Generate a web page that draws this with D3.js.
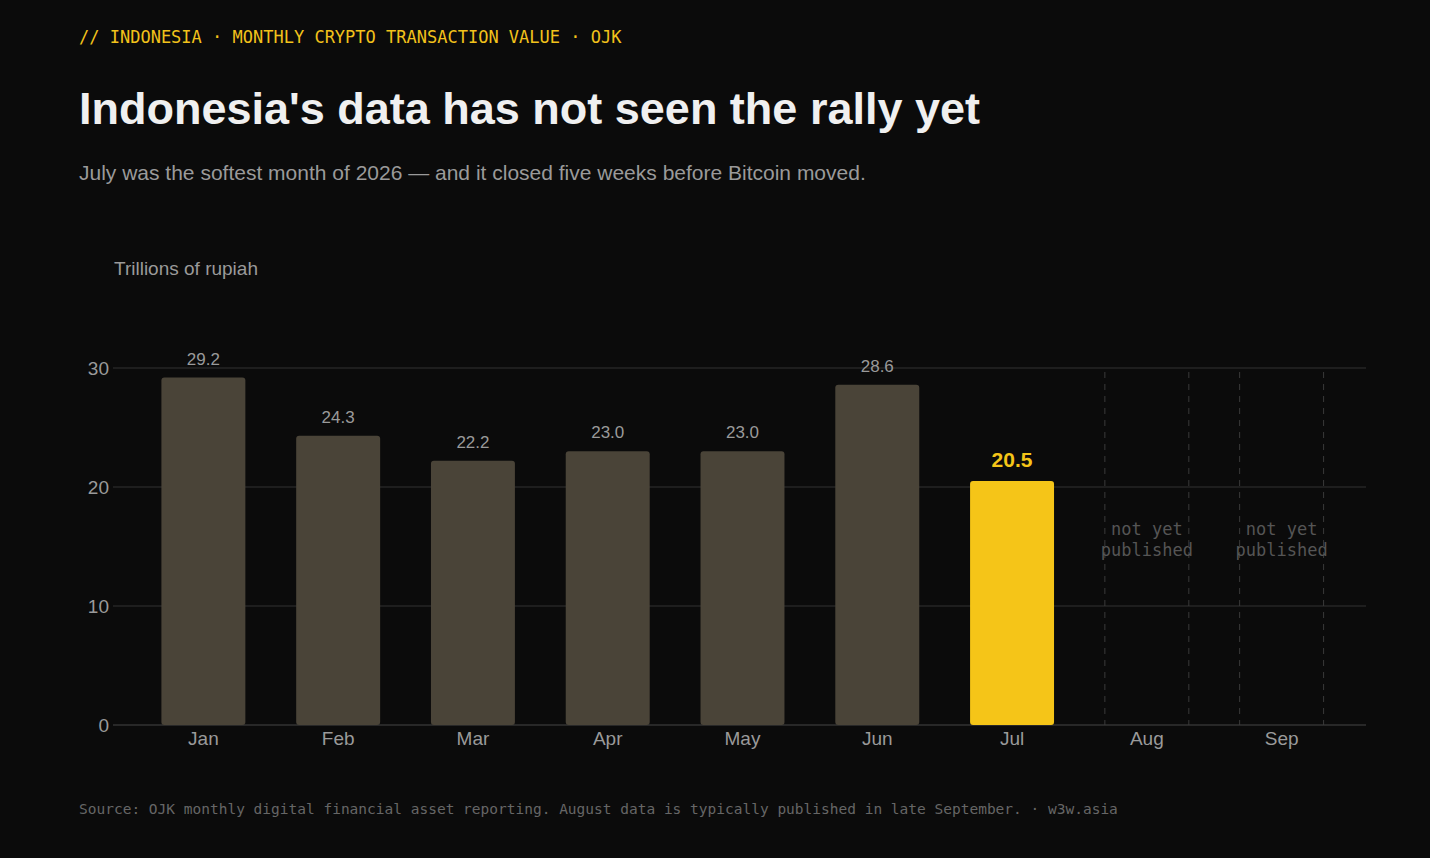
<!DOCTYPE html>
<html><head><meta charset="utf-8">
<script src="https://cdn.jsdelivr.net/npm/d3@7"></script>
<style>
body{margin:0;background:#0b0b0b;}
text{font-family:"Liberation Sans",Arial,sans-serif;}
.mono{font-family:"DejaVu Sans Mono","Liberation Mono",monospace;}
</style></head><body>
<svg id="chart" width="1430" height="858"></svg>
<script>
// data
var months = ['Jan','Feb','Mar','Apr','May','Jun','Jul','Aug','Sep'];
var values = [29.2, 24.3, 22.2, 23.0, 23.0, 28.6, 20.5, null, null];
var yTicks = [0, 10, 20, 30];

var svg = d3.select('#chart');
var plot = {left:113, right:1366, top:368, bottom:725};

var x = d3.scaleBand().domain(months).range([136, 1349]).padding(0);
var barW = x.bandwidth() * 0.623;
var cx = m => x(m) + x.bandwidth() / 2;
var y = d3.scaleLinear().domain([0, 30]).range([plot.bottom, plot.top]);

svg.append('text').attr('class','mono').attr('x',79).attr('y',43)
    .attr('fill','#f2c21b').style('font-size','17px')
    .text('// INDONESIA · MONTHLY CRYPTO TRANSACTION VALUE · OJK');
svg.append('text').attr('x',79).attr('y',124).attr('fill','#f0f0f0')
    .style('font-size','45px').style('font-weight','bold')
    .text("Indonesia's data has not seen the rally yet");
svg.append('text').attr('x',79).attr('y',180).attr('fill','#9a9a9a')
    .style('font-size','21px')
    .text('July was the softest month of 2026 — and it closed five weeks before Bitcoin moved.');
svg.append('text').attr('x',114).attr('y',275).attr('fill','#9a9a9a')
    .style('font-size','19px').text('Trillions of rupiah');

// grid
svg.append('g').selectAll('line').data(yTicks).enter().append('line')
    .attr('x1',plot.left).attr('x2',plot.right)
    .attr('y1',d=>y(d)).attr('y2',d=>y(d))
    .attr('stroke',d=>d===0?'#333':'#262626').attr('stroke-width',1.5);
svg.append('g').selectAll('text').data(yTicks).enter().append('text')
    .attr('x',109).attr('y',d=>y(d)+7).attr('text-anchor','end')
    .attr('fill','#9a9a9a').style('font-size','19px').text(d=>d);

var data = months.map((m,i)=>({m:m, v:values[i]}));
var have = data.filter(d=>d.v!==null);
var missing = data.filter(d=>d.v===null);

svg.append('g').selectAll('rect').data(have).enter().append('rect')
    .attr('x',d=>cx(d.m)-barW/2).attr('width',barW)
    .attr('y',d=>y(d.v)).attr('height',d=>y(0)-y(d.v))
    .attr('rx',3)
    .attr('fill',d=>d.m==='Jul'?'#f5c518':'#4a4438');

svg.append('g').selectAll('text').data(have).enter().append('text')
    .attr('x',d=>cx(d.m)).attr('y',d=>y(d.v)-(d.m==='Jul'?14:13))
    .attr('text-anchor','middle')
    .attr('fill',d=>d.m==='Jul'?'#f5c518':'#9a9a9a')
    .style('font-size',d=>d.m==='Jul'?'21px':'17px')
    .style('font-weight',d=>d.m==='Jul'?'bold':'normal')
    .text(d=>d.v.toFixed(1));

var ph = svg.append('g').selectAll('g').data(missing).enter().append('g');
[-1,1].forEach(s=>{
    ph.append('line').attr('x1',d=>cx(d.m)+s*barW/2).attr('x2',d=>cx(d.m)+s*barW/2)
        .attr('y1',plot.top+4).attr('y2',plot.bottom)
        .attr('stroke','#3a3a3a').attr('stroke-dasharray','6,6');
});
ph.append('text').attr('class','mono').attr('x',d=>cx(d.m)).attr('y',535)
    .attr('text-anchor','middle').attr('fill','#555').style('font-size','17px').text('not yet');
ph.append('text').attr('class','mono').attr('x',d=>cx(d.m)).attr('y',556)
    .attr('text-anchor','middle').attr('fill','#555').style('font-size','17px').text('published');

svg.append('g').selectAll('text').data(months).enter().append('text')
    .attr('x',d=>cx(d)).attr('y',745).attr('text-anchor','middle')
    .attr('fill','#9a9a9a').style('font-size','19px').text(d=>d);

svg.append('text').attr('class','mono').attr('x',79).attr('y',814)
    .attr('fill','#666').style('font-size','14.5px')
    .text('Source: OJK monthly digital financial asset reporting. August data is typically published in late September.  ·  w3w.asia');
</script></body></html>
